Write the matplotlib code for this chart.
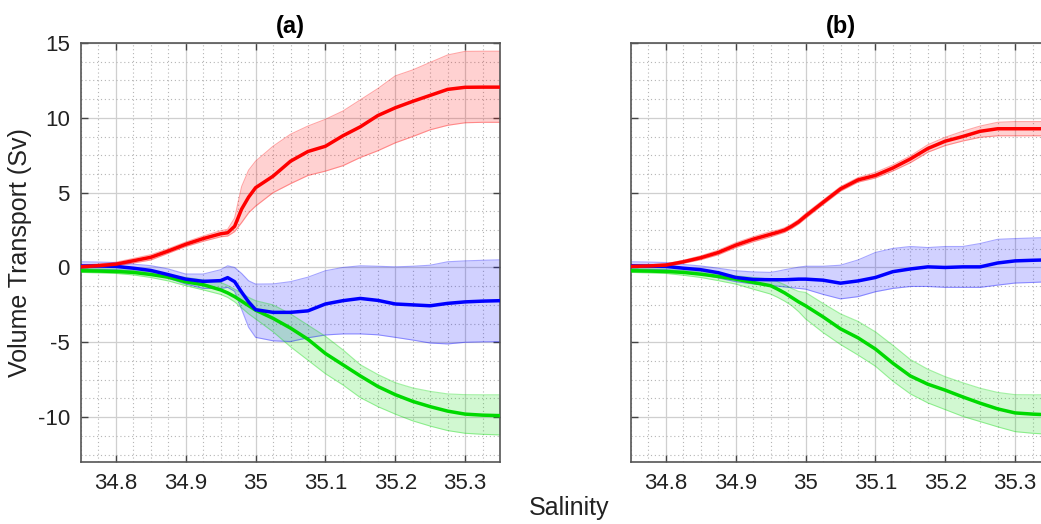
import numpy as np
import matplotlib
matplotlib.use('Agg')
import matplotlib.pyplot as plt
from matplotlib.ticker import MultipleLocator

plt.rcParams['font.family'] = ['Liberation Sans', 'DejaVu Sans']
plt.rcParams['axes.unicode_minus'] = False

# salinity grid shared by all curves
sal = [34.75, 34.775, 34.8, 34.825, 34.85, 34.875, 34.9, 34.925, 34.95, 34.96,
       34.97, 34.98, 34.99, 35.0, 35.025, 35.05, 35.075, 35.1, 35.125, 35.15,
       35.175, 35.2, 35.225, 35.25, 35.275, 35.3, 35.325, 35.35]

# panel (a)
red_a = [0.05, 0.12, 0.22, 0.45, 0.68, 1.1, 1.55, 1.93, 2.25, 2.32,
         2.75, 3.9, 4.7, 5.33, 6.1, 7.1, 7.75, 8.1, 8.8, 9.4,
         10.15, 10.67, 11.1, 11.5, 11.9, 12.04, 12.05, 12.05]
red_a_hi = [0.15, 0.22, 0.35, 0.6, 0.85, 1.25, 1.7, 2.1, 2.45, 2.55,
            3.3, 5.4, 6.5, 7.1, 8.1, 8.9, 9.45, 9.9, 10.45, 11.2,
            11.95, 12.8, 13.2, 13.7, 14.2, 14.44, 14.45, 14.45]
red_a_lo = [-0.05, 0.02, 0.1, 0.3, 0.5, 0.95, 1.4, 1.75, 2.05, 2.1,
            2.4, 3.0, 3.65, 4.1, 5.0, 5.6, 6.15, 6.44, 6.8, 7.35,
            7.8, 8.33, 8.75, 9.2, 9.5, 9.67, 9.7, 9.7]
blue_a = [0.1, 0.1, 0.07, -0.05, -0.2, -0.48, -0.78, -0.93, -0.88, -0.68,
          -0.95, -1.65, -2.3, -2.82, -3.0, -3.0, -2.9, -2.44, -2.22, -2.07,
          -2.2, -2.44, -2.5, -2.56, -2.4, -2.3, -2.25, -2.22]
blue_a_hi = [0.38, 0.36, 0.33, 0.22, 0.12, -0.1, -0.44, -0.44, -0.15, 0.11,
             0.0, -0.4, -0.89, -1.11, -1.1, -0.95, -0.65, -0.22, 0.0, 0.11,
             0.08, 0.04, 0.08, 0.15, 0.38, 0.44, 0.48, 0.51]
blue_a_lo = [-0.11, -0.13, -0.16, -0.27, -0.42, -0.72, -1.11, -1.4, -1.4, -1.33,
             -1.6, -2.8, -4.0, -4.67, -4.9, -4.95, -4.7, -4.51, -4.44, -4.44,
             -4.5, -4.67, -4.85, -5.05, -5.11, -5.0, -4.97, -4.96]
green_a = [-0.22, -0.24, -0.27, -0.33, -0.47, -0.65, -0.96, -1.15, -1.5, -1.7,
           -1.95, -2.25, -2.55, -2.85, -3.4, -4.05, -4.8, -5.75, -6.5, -7.25,
           -7.95, -8.5, -8.95, -9.3, -9.6, -9.8, -9.87, -9.9]
green_a_hi = [-0.07, -0.09, -0.11, -0.2, -0.33, -0.5, -0.67, -0.83, -1.0, -1.2,
              -1.45, -1.7, -2.0, -2.22, -2.5, -3.1, -3.85, -4.6, -5.5, -6.5,
              -7.15, -7.7, -8.05, -8.28, -8.45, -8.5, -8.51, -8.51]
green_a_lo = [-0.33, -0.36, -0.4, -0.5, -0.67, -0.9, -1.22, -1.5, -1.8, -2.0,
              -2.3, -2.7, -3.1, -3.44, -4.3, -5.3, -6.2, -7.1, -7.85, -8.7,
              -9.3, -9.8, -10.25, -10.6, -10.9, -11.08, -11.15, -11.19]

# panel (b)
red_b = [0.07, 0.1, 0.16, 0.38, 0.65, 1.0, 1.49, 1.89, 2.22, 2.35,
         2.5, 2.75, 3.05, 3.44, 4.35, 5.25, 5.85, 6.15, 6.65, 7.25,
         7.95, 8.44, 8.75, 9.1, 9.27, 9.27, 9.27, 9.27]
red_b_hi = [0.15, 0.17, 0.25, 0.48, 0.78, 1.15, 1.65, 2.05, 2.4, 2.5,
            2.65, 2.9, 3.2, 3.6, 4.5, 5.4, 6.0, 6.35, 6.85, 7.45,
            8.2, 8.7, 9.1, 9.45, 9.7, 9.75, 9.75, 9.75]
red_b_lo = [0.0, 0.03, 0.08, 0.28, 0.52, 0.85, 1.33, 1.72, 2.05, 2.2,
            2.35, 2.6, 2.9, 3.28, 4.2, 5.1, 5.7, 5.98, 6.45, 7.0,
            7.7, 8.15, 8.45, 8.7, 8.8, 8.8, 8.8, 8.8]
blue_b = [0.11, 0.09, 0.07, -0.05, -0.15, -0.35, -0.67, -0.8, -0.82, -0.82,
          -0.82, -0.8, -0.78, -0.78, -0.85, -1.05, -0.9, -0.67, -0.28, -0.1,
          0.04, 0.0, 0.04, 0.04, 0.3, 0.44, 0.48, 0.51]
blue_b_hi = [0.38, 0.36, 0.33, 0.2, 0.1, -0.05, -0.22, -0.3, -0.33, -0.25,
             -0.15, -0.07, 0.02, 0.08, 0.08, 0.15, 0.5, 1.0, 1.27, 1.4,
             1.33, 1.4, 1.4, 1.6, 1.88, 1.93, 1.97, 2.0]
blue_b_lo = [-0.11, -0.13, -0.16, -0.3, -0.45, -0.7, -0.95, -1.1, -1.2, -1.25,
             -1.3, -1.35, -1.4, -1.45, -1.8, -2.1, -1.95, -1.62, -1.4, -1.27,
             -1.27, -1.33, -1.33, -1.33, -1.18, -1.04, -1.0, -0.95]
green_b = [-0.22, -0.24, -0.27, -0.33, -0.45, -0.6, -0.78, -1.0, -1.22, -1.45,
           -1.7, -2.0, -2.3, -2.56, -3.3, -4.1, -4.7, -5.45, -6.4, -7.25,
           -7.8, -8.2, -8.65, -9.07, -9.45, -9.72, -9.8, -9.85]
green_b_hi = [-0.07, -0.09, -0.11, -0.2, -0.29, -0.42, -0.56, -0.67, -0.78, -0.95,
              -1.15, -1.4, -1.6, -1.67, -2.4, -3.1, -3.6, -4.3, -5.2, -6.15,
              -6.8, -7.3, -7.7, -8.07, -8.35, -8.5, -8.51, -8.51]
green_b_lo = [-0.33, -0.36, -0.4, -0.52, -0.67, -0.88, -1.11, -1.45, -1.78, -2.0,
              -2.25, -2.55, -2.95, -3.44, -4.35, -5.15, -5.85, -6.6, -7.6, -8.45,
              -9.05, -9.5, -9.95, -10.3, -10.65, -10.97, -11.08, -11.15]

xticks = [34.8, 34.9, 35.0, 35.1, 35.2, 35.3]
xticklabels = ['34.8', '34.9', '35', '35.1', '35.2', '35.3']
yticks = [-10, -5, 0, 5, 10, 15]

cols = {'red': (1, 0, 0), 'blue': (0, 0, 1), 'green': (0, 0.85, 0)}

fig = plt.figure(figsize=(10.41, 5.24), dpi=100)
W, H = 1041, 524
ax_a = fig.add_axes([81 / W, 62 / H, 419 / W, 419 / H])
ax_b = fig.add_axes([631 / W, 62 / H, 419 / W, 419 / H])

panels = [
    (ax_a, '(a)', [(red_a, red_a_lo, red_a_hi, 'red'),
                   (blue_a, blue_a_lo, blue_a_hi, 'blue'),
                   (green_a, green_a_lo, green_a_hi, 'green')]),
    (ax_b, '(b)', [(red_b, red_b_lo, red_b_hi, 'red'),
                   (blue_b, blue_b_lo, blue_b_hi, 'blue'),
                   (green_b, green_b_lo, green_b_hi, 'green')]),
]

for ax, title, series in panels:
    # bands first, then the mean lines on top
    for m, lo, hi, c in series:
        ax.fill_between(sal, lo, hi, color=cols[c], alpha=0.18, lw=0)
        ax.plot(sal, lo, color=cols[c], alpha=0.35, lw=0.8)
        ax.plot(sal, hi, color=cols[c], alpha=0.35, lw=0.8)
    for m, lo, hi, c in [series[2], series[1], series[0]]:
        ax.plot(sal, m, color=cols[c], lw=2.5, zorder=5)

    ax.set_xlim(34.75, 35.35)
    ax.set_ylim(-13, 15)
    ax.set_xticks(xticks)
    ax.set_xticklabels(xticklabels)
    ax.set_yticks(yticks)
    ax.xaxis.set_minor_locator(MultipleLocator(0.025))
    ax.yaxis.set_minor_locator(MultipleLocator(1.25))
    ax.grid(which='major', color='#cfcfcf', lw=0.9, ls='-')
    ax.grid(which='minor', color='#b5b5b5', lw=0.8, ls=(0, (1, 2.5)))
    ax.set_axisbelow(True)
    ax.tick_params(which='major', direction='in', length=5, width=1,
                   top=True, right=True, color='#444444', labelsize=16,
                   labelcolor='#222222', pad=8)
    ax.tick_params(which='minor', length=0)
    for s in ax.spines.values():
        s.set_color('#555555')
        s.set_linewidth(1.2)
    ax.set_title(title, fontsize=17, fontweight='bold', pad=7)

ax_b.set_yticklabels([])
ax_a.set_ylabel('Volume Transport (Sv)', fontsize=18, color='#222222', labelpad=4)
fig.text(569 / W, 1 - 508 / H, 'Salinity', fontsize=18, color='#222222',
         ha='center', va='center')

fig.savefig('out.png', dpi=100)
